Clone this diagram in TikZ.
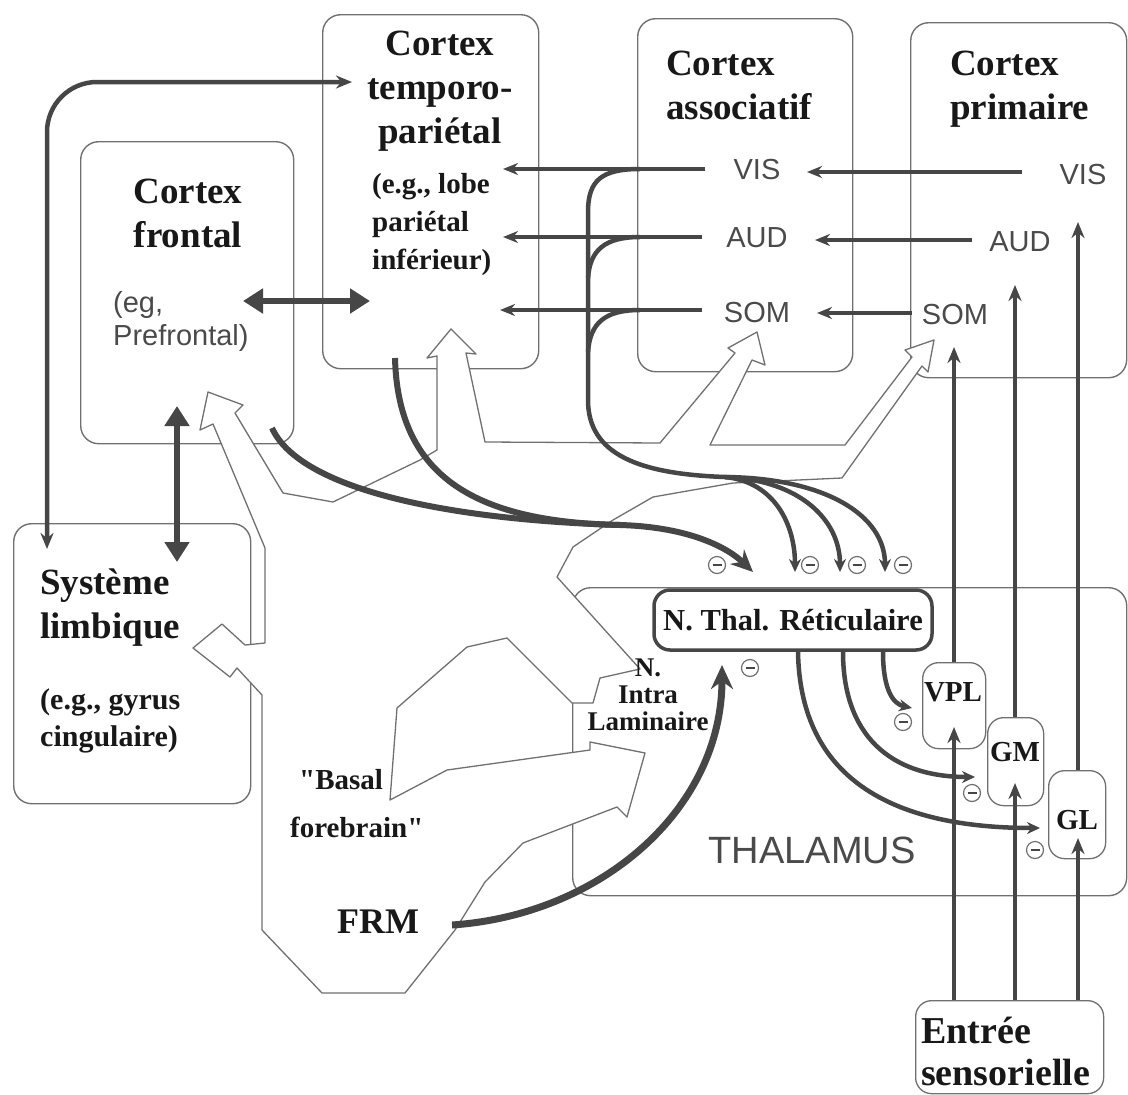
\documentclass[tikz,border=0pt]{standalone}
\usepackage{fontspec}
\setmainfont{Liberation Serif}
\setsansfont{Liberation Sans}
\newfontfamily\qfont{Liberation Serif}[Ligatures=TeXOff]
\usetikzlibrary{arrows.meta}
\definecolor{boxgray}{HTML}{707070}
\definecolor{arrgray}{HTML}{464646}
\definecolor{txtgray}{HTML}{4A4A4A}
\definecolor{ink}{HTML}{181818}
\begin{document}
\begin{tikzpicture}[x=1pt,y=-1pt,
  region/.style={draw=boxgray, line width=1.4pt, rounded corners=18pt, anchor=north west, inner sep=0pt},
  nucleus/.style={draw=boxgray, line width=1.3pt, rounded corners=16pt, fill=white, anchor=north west, inner sep=0pt},
  title/.style={font=\fontsize{37}{44}\selectfont\bfseries, text=ink, inner sep=0pt},
  sub/.style={font=\fontsize{29}{38}\selectfont\bfseries, text=ink, inner sep=0pt, align=left},
  lab/.style={font=\sffamily\fontsize{29}{33}\selectfont, text=txtgray, inner sep=0pt},
  hollow/.style={draw=boxgray, fill=white, line width=1.3pt, line join=round},
  inh/.style={circle, draw=boxgray, line width=1.2pt, minimum size=17pt, inner sep=0pt, fill=white,
    path picture={\draw[arrgray, line width=1.6pt] ([xshift=4pt]path picture bounding box.west) -- ([xshift=-4pt]path picture bounding box.east);}},
  bigcurve/.style={draw=arrgray, line width=6pt},
  bigtip/.style={-{Stealth[length=22pt,width=20pt]}},
  medarr/.style={draw=arrgray, line width=3.5pt, -{Stealth[length=15pt,width=12pt]}},
  sensarr/.style={draw=arrgray, line width=4.5pt, -{Stealth[length=16pt,width=13pt]}},
  smallarr/.style={draw=arrgray, line width=4.5pt, -{Stealth[length=13pt,width=12pt]}},
  plainline/.style={draw=arrgray, line width=4.5pt},
  dblarr/.style={draw=arrgray, line width=6.5pt, {Triangle[length=20pt,width=24pt]}-{Triangle[length=20pt,width=24pt]}},
  longarr/.style={draw=arrgray, line width=4.5pt, {Stealth[length=16pt,width=13pt]}-{Stealth[length=16pt,width=13pt]}}
]
\path[use as bounding box] (0,0) rectangle (1128,1095);

% ---------- region boxes ----------
\node[region, minimum width=216pt, minimum height=354pt] (tp) at (322,14) {};
\node[region, minimum width=213pt, minimum height=302pt] (fr) at (80,141) {};
\node[region, minimum width=215pt, minimum height=353pt] (as) at (637,18) {};
\node[region, minimum width=216pt, minimum height=355pt] (pr) at (910,22) {};
\node[region, minimum width=237pt, minimum height=280pt] (lb) at (13,523) {};
\node[region, minimum width=554pt, minimum height=308pt] (th) at (572,587) {};

% ---------- hollow (outlined) arrows ----------
\draw[hollow] (208,392) -- (200,430) -- (213,424) -- (265,548) -- (265,643) -- (245,645)
  -- (222,624) -- (193,648) -- (230,677) -- (237,668) -- (262,695) -- (262,930)
  -- (322,993) -- (405,993) -- (455,930) -- (485,882) -- (523,843) -- (617,807)
  -- (627,817) -- (645,753) -- (590,742) -- (590,750) -- (447,770) -- (390,800)
  -- (397,708) -- (467,647) -- (507,638) -- (572,703) -- (593,703) -- (600,678)
  -- (640,669) -- (557,577) -- (573,547) -- (613,520) -- (653,497) -- (733,483)
  -- (842,478) -- (922,366) -- (928,372) -- (934,340) -- (905,350) -- (912,357)
  -- (845,445) -- (710,445) -- (752,360) -- (765,365) -- (757,332) -- (728,348)
  -- (735,353) -- (660,443) -- (485,442) -- (466,353) -- (476,354) -- (451,329)
  -- (427,358) -- (437,356) -- (437,450) -- (420,460) -- (333,502) -- (283,493)
  -- (235,413) -- (243,405) -- cycle;

% ---------- thalamic nuclei ----------
\node[draw=arrgray, line width=3.5pt, rounded corners=16pt, fill=white, minimum width=278pt,
  minimum height=60pt, inner sep=0pt, font=\fontsize{30.5}{34}\selectfont\bfseries, text=ink]
  (ntr) at (793,620) {N. Thal. Réticulaire};
\node[nucleus, minimum width=63pt, minimum height=86pt] (vpl) at (922,662) {};
\node[nucleus, minimum width=56pt, minimum height=88pt] (gm) at (987,717) {};
\node[nucleus, minimum width=57pt, minimum height=88pt] (gl) at (1048,770) {};
\node[nucleus, minimum width=188pt, minimum height=93pt] (en) at (915,1000) {};

% ---------- labels inside cortex boxes ----------
\node[lab] (aVIS) at (757,170) {VIS};
\node[lab] (aAUD) at (757,238) {AUD};
\node[lab] (aSOM) at (757,313) {SOM};
\node[lab] (pVIS) at (1083,175) {VIS};
\node[lab] (pAUD) at (1020,242) {AUD};
\node[lab] (pSOM) at (955,315) {SOM};

% ---------- named end points ----------
\coordinate (tpIn) at (352,82);
\coordinate (lbIn) at (47,549);
\coordinate (frR) at (243,301);
\coordinate (tpL) at (370,301);
\coordinate (frB) at (177,406);
\coordinate (lbT) at (177,562);
\coordinate (aVISs) at (705,169);  \coordinate (tVIS) at (503,169);
\coordinate (aAUDs) at (702,237);  \coordinate (tAUD) at (503,237);
\coordinate (aSOMs) at (702,310);  \coordinate (tSOM) at (500,310);
\coordinate (pVISs) at (1022,172); \coordinate (aVISe) at (807,172);
\coordinate (pAUDs) at (972,240);  \coordinate (aAUDe) at (815,240);
\coordinate (pSOMs) at (912,313);  \coordinate (aSOMe) at (817,313);
\coordinate (frS) at (272,428);
\coordinate (tpS) at (395,358);
\coordinate (join) at (620,525);
\coordinate (ntrL) at (753,572);
\coordinate (ntr1) at (795,572);
\coordinate (ntr2) at (840,572);
\coordinate (ntr3) at (885,572);
\coordinate (split) at (725,477);
\coordinate (frm) at (452,925);
\coordinate (ntrB) at (722,665);
\coordinate (toVPL) at (912,708);
\coordinate (toGM) at (975,777);
\coordinate (toGL) at (1040,828);

% ---------- connectors ----------
\draw[longarr, rounded corners=50pt] (tpIn) -- (lbIn |- tpIn) -- (lbIn);
\draw[dblarr] (frR) -- (tpL);
\draw[dblarr] (frB) -- (lbT);

\draw[medarr] (aVISs) -- (tVIS);
\draw[medarr] (aAUDs) -- (tAUD);
\draw[medarr] (aSOMs) -- (tSOM);
\draw[medarr] (pVISs) -- (aVISe);
\draw[medarr] (pAUDs) -- (aAUDe);
\draw[medarr] (pSOMs) -- (aSOMe);

% cortex -> reticular (frontal and temporo-parietal)
\draw[bigcurve] (tpS) .. controls (398,480) and (480,522) .. (join);
\draw[bigcurve, bigtip] (frS) .. controls (300,490) and (450,520) .. (join)
  .. controls (690,527) and (728,548) .. (ntrL);

% sensory cortex -> reticular
\draw[plainline] (640,169) .. controls (602,169) and (588,180) .. (588,212) -- (588,400)
  .. controls (588,455) and (640,474) .. (split);
\draw[plainline] (640,237) .. controls (605,237) and (590,250) .. (588,278);
\draw[plainline] (640,310) .. controls (605,310) and (590,323) .. (588,352);
\draw[smallarr] (split) .. controls (775,482) and (795,525) .. (ntr1);
\draw[smallarr] (split) .. controls (800,480) and (840,520) .. (ntr2);
\draw[smallarr] (split) .. controls (825,478) and (885,515) .. (ntr3);

% reticular -> relay nuclei
\draw[smallarr] (ntr.south -| 883,0) .. controls (883,690) and (893,704) .. (toVPL);
\draw[smallarr] (ntr.south -| 843,0) .. controls (843,735) and (890,777) .. (toGM);
\draw[smallarr] (ntr.south -| 798,0) .. controls (800,770) and (880,828) .. (toGL);

% FRM -> reticular
\draw[draw=arrgray, line width=7pt, -{Stealth[length=24pt,width=22pt]}]
  (frm) .. controls (600,915) and (722,810) .. (ntrB);

% sensory input -> relay nuclei -> primary cortex
\draw[sensarr] (en.north -| 954,0) -- (954,727);
\draw[sensarr] (vpl.north -| 954,0) -- (954,347);
\draw[sensarr] (en.north -| 1015,0) -- (1015,783);
\draw[sensarr] (gm.north -| 1015,0) -- (1015,285);
\draw[sensarr] (en.north -| 1078,0) -- (1078,838);
\draw[sensarr] (gl.north -| 1078,0) -- (1078,222);

% ---------- inhibition marks ----------
\node[inh] (m1) at (717,565) {};
\node[inh] (m2) at (810,565) {};
\node[inh] (m3) at (857,565) {};
\node[inh] (m4) at (903,565) {};
\node[inh] (m5) at (750,668) {};
\node[inh] (m6) at (903,722) {};
\node[inh] (m7) at (972,793) {};
\node[inh] (m8) at (1035,850) {};

% ---------- texts ----------
\node[title, align=center] (tpT) at (440,91) {Cortex\\temporo-\\pariétal};
\node[sub, anchor=west] (tpSub) at (372,225) {(e.g., lobe\\pariétal\\inférieur)};
\node[title, align=center] (frT) at (188,213) {Cortex\\frontal};
\node[font=\sffamily\fontsize{29}{33}\selectfont, text=txtgray, inner sep=0pt, align=left, anchor=west]
  (frSub) at (113,321) {(eg,\\Prefrontal)};
\node[title, align=left, anchor=west] (asT) at (666,85) {Cortex\\associatif};
\node[title, align=left, anchor=west] (prT) at (950,89) {Cortex\\primaire};
\node[title, align=left, anchor=west] (lbTi) at (40,608) {Système\\limbique};
\node[sub, anchor=west, font=\fontsize{30}{37}\selectfont\bfseries] (lbSub) at (40,721) {(e.g., gyrus\\cingulaire)};
\node[font=\fontsize{27}{27}\selectfont\bfseries, text=ink, inner sep=0pt, align=center]
  (nil) at (648,695) {N.\\Intra\\Laminaire};
\node[font=\fontsize{29}{48}\selectfont\bfseries, text=ink, inner sep=0pt, align=left, anchor=west]
  (bf) at (290,804) {\hspace*{9pt}{\qfont\bfseries"}Basal\\forebrain{\qfont\bfseries"}};
\node[font=\fontsize{36}{40}\selectfont\bfseries, text=ink, inner sep=0pt] (frmT) at (378,922) {FRM};
\node[font=\sffamily\fontsize{38}{40}\selectfont, text=txtgray, inner sep=0pt] (thT) at (812,850) {THALAMUS};
\node[font=\fontsize{29}{34}\selectfont\bfseries, text=ink, inner sep=0pt] (vplT) at (953,692) {VPL};
\node[font=\fontsize{29}{34}\selectfont\bfseries, text=ink, inner sep=0pt] (gmT) at (1015,752) {GM};
\node[font=\fontsize{29}{34}\selectfont\bfseries, text=ink, inner sep=0pt] (glT) at (1077,820) {GL};
\node[font=\fontsize{38}{42}\selectfont\bfseries, text=ink, inner sep=0pt, align=left, anchor=west]
  (enT) at (921,1051) {Entrée\\sensorielle};
\end{tikzpicture}
\end{document}
